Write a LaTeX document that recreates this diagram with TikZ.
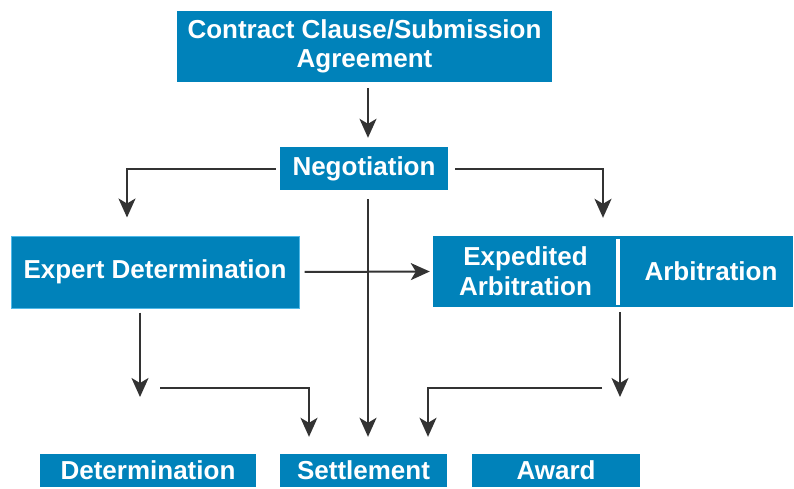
\documentclass[tikz,border=0pt]{standalone}
\usepackage{fontspec}
\setmainfont{Liberation Sans}
\usepackage{tikz}
\usetikzlibrary{arrows.meta,calc,positioning}
\definecolor{boxcolor}{RGB}{0,130,186}
\definecolor{boxedge}{RGB}{80,185,232}
\definecolor{flowcolor}{RGB}{51,51,51}
\tikzstyle{box}=[rectangle,fill=boxcolor,text=white,inner sep=0pt,align=center,font=\fontsize{26}{29}\selectfont\bfseries]
\tikzstyle{box label}=[text=white,inner sep=0pt,align=center,font=\fontsize{26}{30}\selectfont\bfseries]
\tikzstyle{flow}=[-{Stealth[length=19pt,width=17pt,inset=5pt]},line width=2pt,flowcolor]

\begin{document}
\begin{tikzpicture}[x=1pt,y=-1pt]
\useasboundingbox (0,0) rectangle (794,488);
\def\boxh{71}
\def\endh{33}

    % boxes
    \node[box, minimum width=375pt, minimum height=\boxh pt] (Contract) at (364.5,46.5) {Contract Clause/Submission\\Agreement};
    \node[box, minimum width=168pt, minimum height=43pt] (Negotiation) at (364,168.5) {Negotiation};
    \node[box, draw=boxedge, line width=1pt, minimum width=288pt, minimum height=72pt] (Expert) at (155,272) {Expert Determination};
    \node[box, minimum width=360pt, minimum height=\boxh pt] (Arb) at (613,271.5) {};
    \node[box label] (ExpArb) at (525.5,271.5) {Expedited\\Arbitration};
    \node[box label] (FullArb) at (711,271.5) {Arbitration};
    \draw[white, line width=4.5pt] (618,239) -- (618,305);

    \foreach \name / \x / \w in {Determination/148/216, Settlement/363.5/167, Award/556/168}
        \node[box, minimum width=\w pt, minimum height=\endh pt] (\name) at (\x,470.5) {\name};

    % columns of the connectors
    \coordinate (midcol) at (368,0);
    \coordinate (leftcol) at (127,0);
    \coordinate (rightcol) at (603,0);
    \coordinate (DetEnd) at (140,397);
    \coordinate (DetStart) at (160,388);
    \coordinate (AwdEnd) at (620,397);
    \coordinate (AwdStart) at (602,388);
    \coordinate (setleft) at (309,0);
    \coordinate (setright) at (428,0);

    % connectors
    \draw[flow, shorten <=6pt, shorten >=9pt] (Contract.south -| midcol) -- (Negotiation.north -| midcol);
    \draw[flow, shorten <=4pt, shorten >=18pt] (Negotiation.west) -| (Expert.north -| leftcol);
    \draw[flow, shorten <=7pt, shorten >=18pt] (Negotiation.east) -| (Arb.north -| rightcol);
    \draw[flow, shorten <=9pt, shorten >=17pt] (Negotiation.south -| midcol) -- (Settlement.north -| midcol);
    \draw[flow, shorten <=5pt, shorten >=3pt] (Expert.east) -- (Arb.west);
    \draw[flow, shorten <=4pt] (Expert.south -| DetEnd) -- (DetEnd);
    \draw[flow, shorten >=17pt] (DetStart) -| (Settlement.north -| setleft);
    \draw[flow, shorten <=5pt] (Arb.south -| AwdEnd) -- (AwdEnd);
    \draw[flow, shorten >=17pt] (AwdStart) -| (Settlement.north -| setright);

\end{tikzpicture}
\end{document}
